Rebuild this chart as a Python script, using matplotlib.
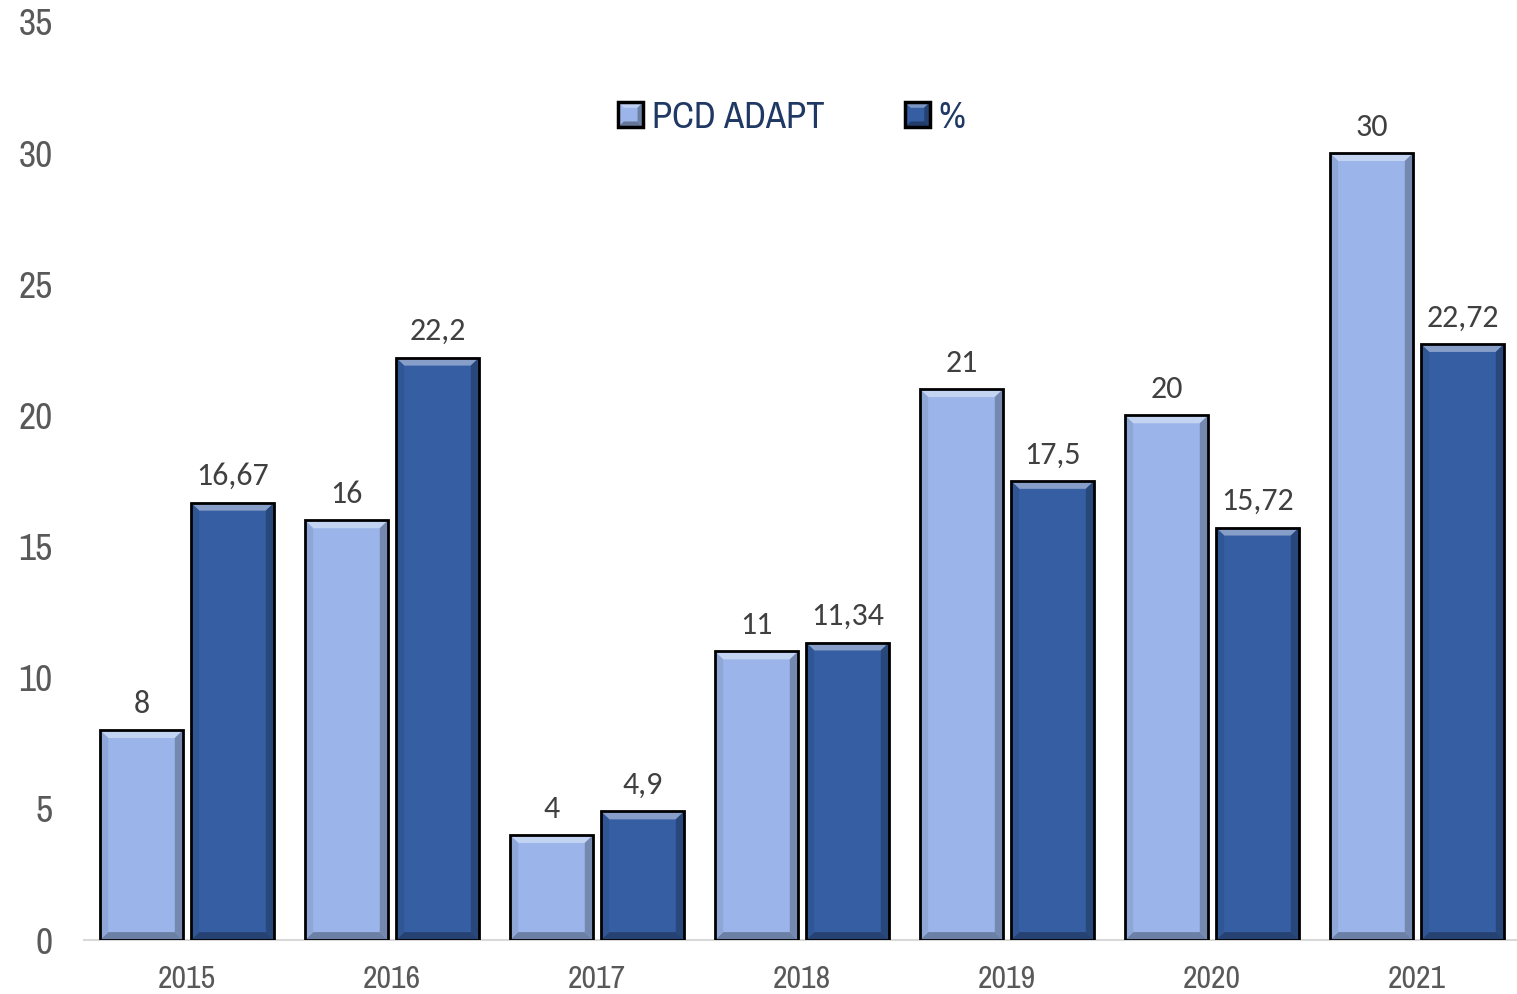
import numpy as np
import matplotlib.pyplot as plt
from matplotlib.patches import Polygon, Rectangle
from matplotlib.legend_handler import HandlerBase

years = ["2015", "2016", "2017", "2018", "2019", "2020", "2021"]
pcd_adapt = [8, 16, 4, 11, 21, 20, 30]
percent = [16.67, 22.2, 4.9, 11.34, 17.5, 15.72, 22.72]
series_names = ["PCD ADAPT", "%"]

light = "#9BB5EA"
dark = "#355EA3"
narrow = ["Liberation Sans Narrow", "Archivo Narrow", "DejaVu Sans"]
calibri = ["Carlito", "Lato", "DejaVu Sans"]


def shade(c, f):
    rgb = np.array(plt.matplotlib.colors.to_rgb(c))
    if f > 0:
        rgb = rgb + (1 - rgb) * f
    else:
        rgb = rgb * (1 + f)
    return tuple(np.clip(rgb, 0, 1))


def bevel(ax, rect, color, dx, dy):
    x, y0 = rect.get_x(), rect.get_y()
    w, h = rect.get_width(), rect.get_height()
    x1, y1 = x + w, y0 + h
    faces = [
        ([(x, y1), (x1, y1), (x1 - dx, y1 - dy), (x + dx, y1 - dy)], shade(color, 0.4)),
        ([(x1, y1), (x1, y0), (x1 - dx, y0 + dy), (x1 - dx, y1 - dy)], shade(color, -0.25)),
        ([(x, y0), (x1, y0), (x1 - dx, y0 + dy), (x + dx, y0 + dy)], shade(color, -0.3)),
        ([(x, y1), (x, y0), (x + dx, y0 + dy), (x + dx, y1 - dy)], shade(color, -0.08)),
    ]
    for pts, fc in faces:
        ax.add_patch(Polygon(pts, closed=True, fc=fc, ec="none", zorder=3))
    ax.add_patch(Rectangle((x, y0), w, h, fc="none", ec="black", lw=2, zorder=4))


class BevelHandler(HandlerBase):
    def create_artists(self, legend, orig, xdescent, ydescent, width, height, fontsize, trans):
        s = height * 0.95
        x0 = -xdescent + width - s
        y0 = -ydescent + (height - s) / 2
        color = orig.get_facecolor()
        d = s * 0.22
        arts = [Rectangle((x0, y0), s, s, fc=color, ec="none", transform=trans)]
        faces = [
            ([(x0, y0 + s), (x0 + s, y0 + s), (x0 + s - d, y0 + s - d), (x0 + d, y0 + s - d)], shade(color, 0.35)),
            ([(x0 + s, y0 + s), (x0 + s, y0), (x0 + s - d, y0 + d), (x0 + s - d, y0 + s - d)], shade(color, -0.3)),
            ([(x0, y0), (x0 + s, y0), (x0 + s - d, y0 + d), (x0 + d, y0 + d)], shade(color, -0.35)),
        ]
        for pts, fc in faces:
            arts.append(Polygon(pts, closed=True, fc=fc, ec="none", transform=trans))
        arts.append(Rectangle((x0, y0), s, s, fc="none", ec="black", lw=2.5, transform=trans))
        return arts


fig = plt.figure(figsize=(15.17, 9.94), dpi=100)
ax = fig.add_axes([84.5 / 1517, 54 / 994, 1435 / 1517, 918 / 994])

x = np.arange(len(years))
w = 0.405
off = 0.222
b1 = ax.bar(x - off, pcd_adapt, w, color=light, zorder=2)
b2 = ax.bar(x + off, percent, w, color=dark, zorder=2)

dx, dy = 0.04, 0.3
for bars, col, vals in [(b1, light, pcd_adapt), (b2, dark, percent)]:
    for r, v in zip(bars, vals):
        bevel(ax, r, col, dx, dy)
        ax.annotate(f"{v:g}".replace(".", ","), (r.get_x() + r.get_width() / 2, r.get_height()),
                    xytext=(0, 9), textcoords="offset points", ha="center", va="bottom",
                    fontsize=23, color="#404040", family=calibri)

ax.set_xlim(-0.5, 6.5)
ax.set_ylim(0, 35)
ax.set_yticks(range(0, 36, 5))
ax.set_xticks(x)
ax.set_xticklabels(years)
for s in ["top", "right", "left"]:
    ax.spines[s].set_visible(False)
ax.spines["bottom"].set_color("#D9D9D9")
ax.spines["bottom"].set_linewidth(1.5)
ax.tick_params(axis="both", length=0, colors="#595959")
ax.tick_params(axis="y", pad=23, labelsize=27)
ax.tick_params(axis="x", pad=18, labelsize=23)
for t in ax.get_xticklabels() + ax.get_yticklabels():
    t.set_family(narrow)

proxies = [Rectangle((0, 0), 1, 1, fc=light), Rectangle((0, 0), 1, 1, fc=dark)]
leg = ax.legend(proxies, series_names, handler_map={Rectangle: BevelHandler()},
                loc="center", bbox_to_anchor=(0.492, 0.8965), ncol=2, frameon=False,
                prop={"family": narrow, "size": 26.5}, handlelength=0.75, handletextpad=0.25,
                columnspacing=2.1)
for t in leg.get_texts():
    t.set_color("#1F3864")

fig.savefig("out.png", dpi=100)
